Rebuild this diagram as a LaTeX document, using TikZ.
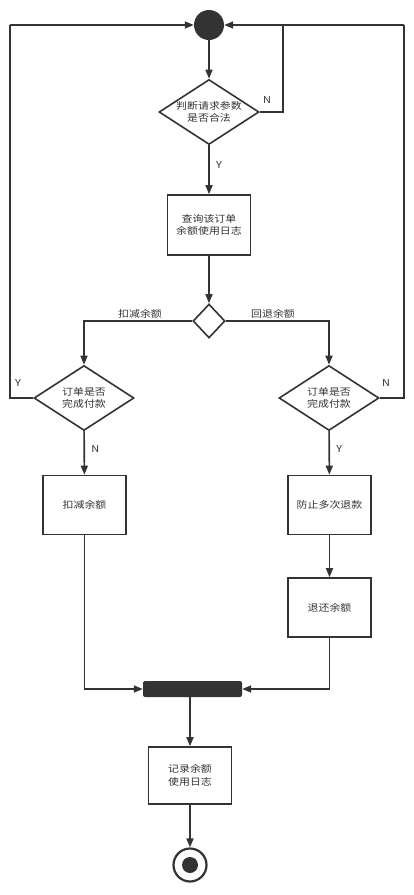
\documentclass[tikz,border=0pt]{standalone}
\usepackage{fontspec}
\setmainfont[FakeStretch=1.15]{Noto Sans CJK SC}
\usetikzlibrary{shapes.geometric,arrows.meta}
\definecolor{ln}{HTML}{333333}
\tikzset{
  every node/.style={font=\fontsize{9.5}{12.7}\selectfont, text=ln, align=center},
  flow/.style={draw=ln, line width=1.6pt, -{Triangle[length=9pt,width=7pt]}},
  plain/.style={draw=ln, line width=1.6pt},
  decision/.style={diamond, draw=ln, line width=1.6pt, fill=white, minimum width=100pt, minimum height=65pt, inner sep=0pt, aspect=1.54},
  actbox/.style={rectangle, draw=ln, line width=1.6pt, fill=white, minimum width=83pt, minimum height=59pt, inner sep=0pt},
  lbl/.style={font=\fontsize{9.5}{11}\selectfont}
}
\begin{document}
\begin{tikzpicture}[x=1pt,y=-1pt]
\useasboundingbox (0,0) rectangle (413,895);
\node[circle, fill=ln, minimum size=30pt, inner sep=0pt] (start) at (209,25) {};
\node[decision] (d1) at (209,112) {判断请求参数\\是否合法};
\node[actbox, minimum height=60pt] (q) at (209,225) {查询该订单\\余额使用日志};
\node[diamond, draw=ln, line width=1.6pt, minimum width=32pt, minimum height=34pt, inner sep=0pt] (d2) at (209,321) {};
\node[decision] (d3) at (84,398) {订单是否\\完成付款};
\node[decision] (d4) at (329,398) {订单是否\\完成付款};
\node[actbox] (kj) at (84.5,505) {扣减余额};
\node[actbox] (fz) at (329.5,505) {防止多次退款};
\node[actbox] (th) at (329.5,607.5) {退还余额};
\node[rectangle, rounded corners=2pt, fill=ln, minimum width=99pt, minimum height=16pt, inner sep=0pt] (bar) at (192.5,689) {};
\node[actbox, minimum height=57pt] (jl) at (190,775.5) {记录余额\\使用日志};
\node[circle, draw=ln, line width=2.2pt, fill=white, minimum size=33pt, inner sep=0pt] (end) at (190,865) {};
\node[circle, fill=ln, minimum size=16pt, inner sep=0pt] (endin) at (end.center) {};
\coordinate (tl) at (10,25);
\coordinate (tr) at (404,25);
\coordinate (tm) at (283,25);

\draw[flow] (start) -- (d1);
\draw[flow] (d1) -- node[pos=0.4, right=3pt, lbl]{Y} (q);
\draw[plain] (d1.east) -| (tm);
\node[lbl] at (267,100) {N};
\draw[flow] (tr) -- (start);
\draw[plain] (d4.east) -| (tr);
\node[lbl] at (386,383) {N};
\draw[flow] (tl) -- (start);
\draw[plain] (d3.west) -| (tl);
\node[lbl] at (18,383) {Y};
\draw[flow] (q) -- (d2);
\draw[flow] (d2.west) -| (d3.north);
\draw[flow] (d2.east) -| (d4.north);
\node[lbl] at (140,314) {扣减余额};
\node[lbl] at (273,314) {回退余额};
\draw[flow] (d3) -- node[pos=0.4, right=3pt, lbl]{N} (kj);
\draw[flow] (d4) -- node[pos=0.4, right=3pt, lbl]{Y} (fz);
\draw[flow] (fz) -- (th);
\draw[flow] (kj.south) |- (bar.west);
\draw[flow] (th.south) |- (bar.east);
\draw[flow] (bar.south -| jl.north) -- (jl);
\draw[flow] (jl) -- (end);
\end{tikzpicture}
\end{document}
